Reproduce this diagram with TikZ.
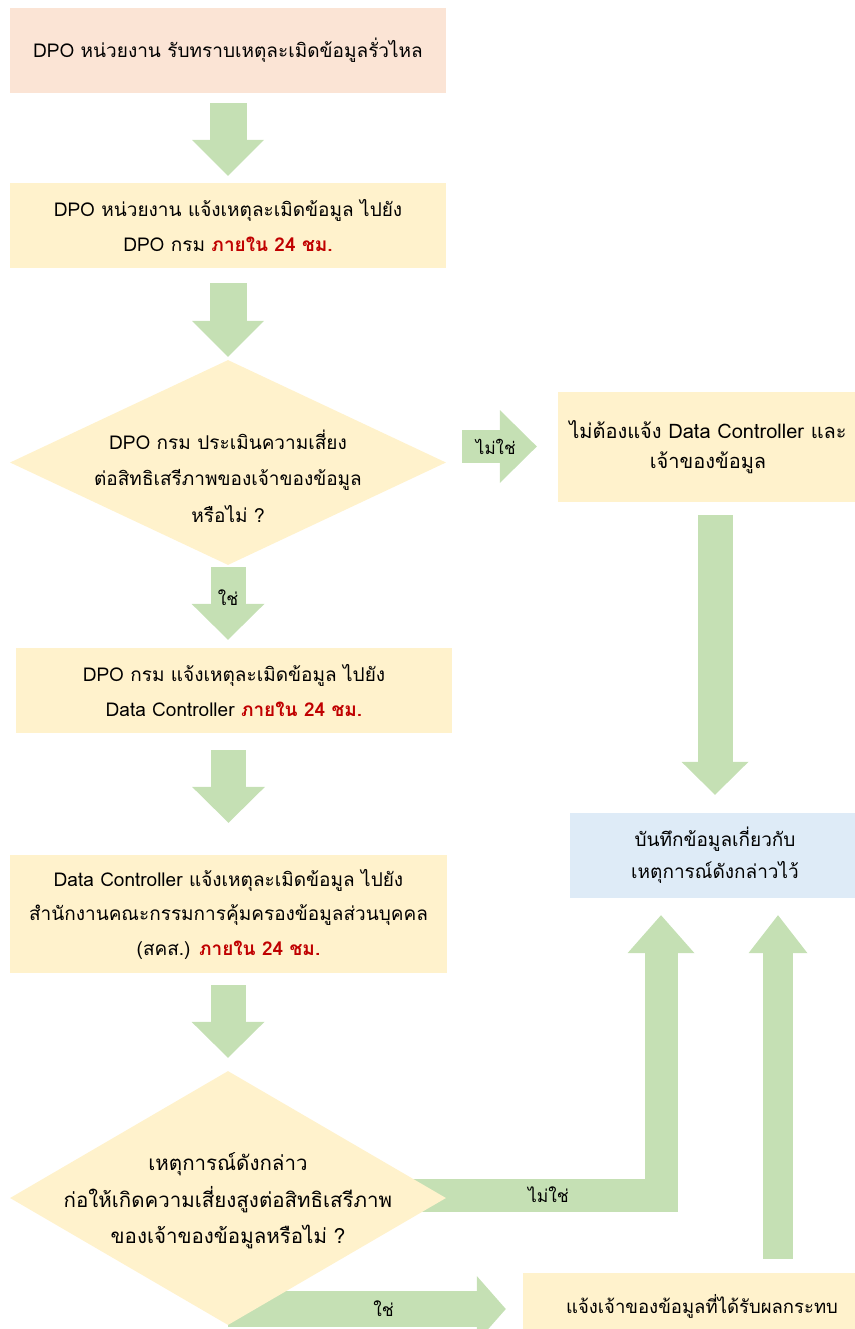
\documentclass[tikz,border=0pt]{standalone}
\usepackage{fontspec}
\setmainfont[Script=Thai]{Loma}
\usetikzlibrary{shapes.geometric,arrows.meta,backgrounds}
\definecolor{ybox}{HTML}{FFF2CC}
\definecolor{pbox}{HTML}{FBE4D5}
\definecolor{bbox}{HTML}{DEEBF7}
\definecolor{garr}{HTML}{C5E0B4}
\definecolor{rtxt}{HTML}{C00000}
\tikzset{
  box/.style={rectangle, inner sep=0pt, align=center, font=\fontsize{19}{34.5}\selectfont},
  diam/.style={diamond, fill=ybox, inner sep=0pt, minimum width=436pt},
  dtext/.style={align=center, inner sep=0pt, font=\fontsize{19}{36.5}\selectfont},
  garrow/.style={draw=garr, line cap=butt, line join=miter, line width=#1},
  lbl/.style={inner sep=0pt, font=\fontsize{17.5}{20}\selectfont},
}
\newcommand{\red}[1]{\textcolor{rtxt}{\bfseries #1}}
\begin{document}
\begin{tikzpicture}[x=1pt,y=-1pt]
\useasboundingbox (0,0) rectangle (854,1329);
% boxes
\node[box, fill=pbox, minimum width=436pt, minimum height=85pt] (b1) at (228,50.5)
  {DPO หน่วยงาน รับทราบเหตุละเมิดข้อมูลรั่วไหล};
\node[box, fill=ybox, minimum width=436pt, minimum height=85pt] (b2) at (228,225.5)
  {DPO หน่วยงาน แจ้งเหตุละเมิดข้อมูล ไปยัง\\DPO กรม \red{ภายใน 24 ชม.}};
\node[diam, minimum height=205pt] (d1) at (228,462.5) {};
\node[dtext] (d1t) at (228,476) {DPO กรม ประเมินความเสี่ยง\\ต่อสิทธิเสรีภาพของเจ้าของข้อมูล\\หรือไม่ ?};
\node[box, fill=ybox, minimum width=436pt, minimum height=85pt] (b3) at (234,690.5)
  {DPO กรม แจ้งเหตุละเมิดข้อมูล ไปยัง\\Data Controller \red{ภายใน 24 ชม.}};
\node[box, fill=ybox, minimum width=437pt, minimum height=118pt] (b4) at (228.5,914)
  {Data Controller แจ้งเหตุละเมิดข้อมูล ไปยัง\\สำนักงานคณะกรรมการคุ้มครองข้อมูลส่วนบุคคล\\(สคส.) \red{ภายใน 24 ชม.}};
\node[diam, minimum height=254pt] (d2) at (228,1198) {};
\node[dtext, font=\fontsize{20.5}{36.5}\selectfont] (d2t) at (228,1201) {เหตุการณ์ดังกล่าว\\ก่อให้เกิดความเสี่ยงสูงต่อสิทธิเสรีภาพ\\ของเจ้าของข้อมูลหรือไม่ ?};
\node[box, fill=ybox, minimum width=300pt, minimum height=110pt, font=\fontsize{20}{30}\selectfont] (r1) at (708,447)
  {ไม่ต้องแจ้ง Data Controller และ\\เจ้าของข้อมูล};
\node[box, fill=bbox, minimum width=290pt, minimum height=85pt, font=\fontsize{19}{32}\selectfont] (rec) at (715,855.5)
  {บันทึกข้อมูลเกี่ยวกับ\\เหตุการณ์ดังกล่าวไว้};
\node[box, fill=ybox, minimum width=358pt, minimum height=66pt, font=\fontsize{18.5}{22}\selectfont] (bot) at (702,1306)
  {แจ้งเจ้าของข้อมูลที่ได้รับผลกระทบ};
\coordinate (k) at (661,1195);
\coordinate (u) at (778,1195);
\coordinate (s) at (228,1309);
% arrows
\begin{scope}[on background layer]
\draw[garrow=37pt, -{Triangle[width=72pt,length=36pt,line width=0pt]}]
  ([yshift=-10pt]b1.south) -- ([yshift=7pt]b2.north);
\draw[garrow=37pt, -{Triangle[width=72pt,length=36pt,line width=0pt]}]
  ([yshift=-15pt]b2.south) -- ([yshift=3pt]d1.north);
\draw[garrow=35pt, -{Triangle[width=73pt,length=36pt,line width=0pt]}]
  ([yshift=-2pt]d1.south) -- node[lbl, yshift=6pt] {ใช่} ([yshift=8pt]b3.north -| d1.south);
\draw[garrow=35pt, -{Triangle[width=73pt,length=36pt,line width=0pt]}]
  ([yshift=-17pt]b3.south -| b4.north) -- ([yshift=32pt]b4.north);
\draw[garrow=35pt, -{Triangle[width=73pt,length=36pt,line width=0pt]}]
  ([yshift=-12pt]b4.south -| d2.north) -- ([yshift=13pt]d2.north);
\draw[garrow=33pt, -{Triangle[width=73pt,length=37pt,line width=0pt]}]
  ([shift={(16pt,16pt)}]d1.east) -- node[lbl, pos=0.45, font=\fontsize{17}{20}\selectfont] {ไม่ใช่} ([xshift=-21pt,yshift=16pt]d1.east -| r1.west);
\draw[garrow=35pt, -{Triangle[width=67pt,length=33pt,line width=0pt]}]
  ([yshift=-13pt]r1.south -| rec.north) -- ([yshift=18pt]rec.north);
\draw[garrow=33pt, -{Triangle[width=67pt,length=38pt,line width=0pt]}]
  (d2.center |- k) -- node[lbl, pos=0.74] {ไม่ใช่} (k) -- ([yshift=-17pt]k |- rec.south);
\draw[garrow=30pt, -{Triangle[width=59pt,length=38pt,line width=0pt]}]
  ([yshift=14pt]u |- bot.north) -- ([yshift=-17pt]u |- rec.south);
\draw[garrow=36pt, -{Triangle[width=66pt,length=29pt,line width=0pt]}]
  (s) -- node[lbl, pos=0.56] {ใช่} ([xshift=-17pt]s -| bot.west);
\end{scope}
\end{tikzpicture}
\end{document}
